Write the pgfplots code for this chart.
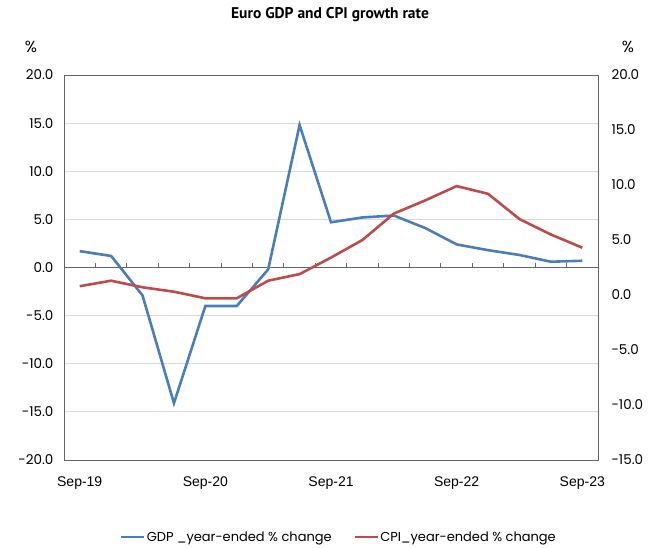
\documentclass[border=0pt]{standalone}
\usepackage{pgfplots}
\usepackage{pgfplotstable}
\pgfplotsset{compat=1.18}
\usepackage{fontspec}
\setmainfont{Poppins}
\newfontfamily\arialfont{Liberation Sans}
\newfontfamily\titlefont{PT Sans}
\definecolor{gdpblue}{RGB}{74,126,187}
\definecolor{cpired}{RGB}{190,75,72}
\definecolor{axisgray}{RGB}{100,100,100}
\definecolor{gridgray}{RGB}{217,217,217}

\pgfplotstableread{
x gdp cpi
0 1.7 0.8
1 1.2 1.3
2 -2.9 0.7
3 -14.1 0.3
4 -4.0 -0.3
5 -4.0 -0.3
6 -0.2 1.3
7 14.8 1.9
8 4.7 3.4
9 5.2 5.0
10 5.4 7.4
11 4.1 8.6
12 2.4 9.9
13 1.8 9.2
14 1.3 6.9
15 0.6 5.5
16 0.7 4.3
}\datatable

\pgfplotsset{
  common/.style={
    at={(64pt,87pt)}, anchor=south west, scale only axis,
    width=534pt, height=385pt,
    xmin=-0.5, xmax=16.5,
    y tick label style={font=\fontsize{13.5}{15}\selectfont,
      /pgf/number format/fixed, /pgf/number format/fixed zerofill,
      /pgf/number format/precision=1, /pgf/number format/assume math mode=true},
    scaled y ticks=false,
  },
  gdpstyle/.style={gdpblue, line width=2.6pt, line join=miter, no markers},
  cpistyle/.style={cpired, line width=2.6pt, line join=miter, no markers},
}

\begin{document}
\begin{tikzpicture}[x=1pt,y=1pt]
\useasboundingbox (0,0) rectangle (660,547);

\begin{axis}[common,
  ymin=-20, ymax=20, ytick={-20,-15,...,20},
  xtick={0,4,8,12,16},
  xticklabels={Sep-19,Sep-20,Sep-21,Sep-22,Sep-23},
  x tick label style={font=\arialfont\fontsize{14}{16}\selectfont, yshift=-13pt},
  major tick length=0pt,
  ymajorgrids, grid style={gridgray, line width=0.9pt},
  axis line style={axisgray, line width=1pt},
  yticklabel style={/tikz/xshift=-7pt},
]
\end{axis}

\begin{axis}[common,
  ymin=-20, ymax=20,
  axis x line=middle, axis y line=none,
  x axis line style={-, axisgray, line width=1.2pt},
  xtick={0.5,1.5,...,15.5}, xticklabels={},
  tick align=inside,
  major tick length=5pt,
  tick style={axisgray, line width=1pt},
]
\addplot[gdpstyle] table[x=x, y=gdp] {\datatable};
\end{axis}

\begin{axis}[common,
  ymin=-15, ymax=20, ytick={-15,-10,...,20},
  axis x line=none, axis y line*=right,
  y axis line style={-, axisgray, line width=1pt},
  major tick length=0pt,
  yticklabel style={/tikz/xshift=10pt},
  legend style={at={(0.514,-0.2)}, anchor=center, draw=none, fill=none,
    legend columns=2, font=\fontsize{13}{15}\selectfont,
    /tikz/every even column/.append style={column sep=20pt},
    nodes={inner sep=1.5pt}},
  legend image code/.code={\draw[#1] (0pt,0pt) -- (23pt,0pt);},
]
\addlegendimage{gdpstyle}
\addlegendentry{GDP \_year-ended \% change}
\addplot[cpistyle] table[x=x, y=cpi] {\datatable};
\addlegendentry{CPI\_year-ended \% change}
\end{axis}

\node[font=\titlefont\bfseries\fontsize{15.5}{17}\selectfont] at (330,532) {Euro GDP and CPI growth rate};
\node[font=\fontsize{16}{18}\selectfont] at (31,500) {\%};
\node[font=\fontsize{16}{18}\selectfont] at (628,500) {\%};
\end{tikzpicture}
\end{document}
